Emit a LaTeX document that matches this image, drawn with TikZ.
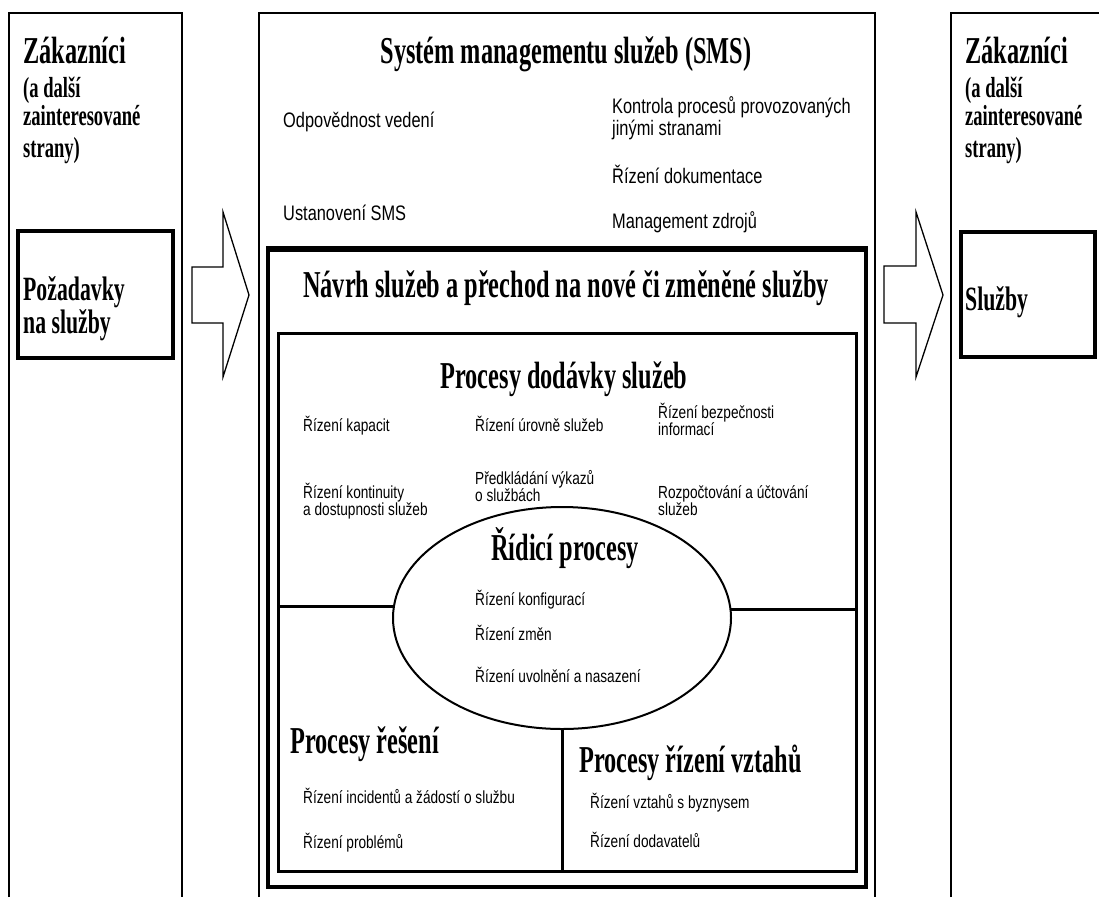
\documentclass[tikz,border=0pt]{standalone}
\usepackage{fontspec}
\setmainfont{Liberation Serif}[FakeStretch=0.64]
\setsansfont{Liberation Sans}[FakeStretch=0.78]
\newfontfamily\smallsans{Liberation Sans}[FakeStretch=0.78]
\usetikzlibrary{shapes.geometric}
\newcommand\linesof[1]{\begin{tabular}[t]{@{}l@{}}#1\end{tabular}}
\begin{document}
\begin{tikzpicture}[x=1pt,y=-1pt,
  frame/.style={line width=2.2pt},
  heavybox/.style={draw, line width=3.5pt},
  midbox/.style={draw, line width=3pt},
  sepline/.style={line width=3pt},
  blockarrow/.style={draw, line width=1.3pt, line join=miter},
  title/.style={font=\bfseries\fontsize{38}{40}\selectfont, inner sep=0, anchor=base},
  sectitle/.style={font=\bfseries\fontsize{38}{40}\selectfont, inner sep=0, anchor=base west},
  colsub/.style={font=\bfseries\fontsize{29}{30}\selectfont, inner sep=0, anchor=base west},
  boxlabel/.style={font=\bfseries\fontsize{34}{31}\selectfont, inner sep=0, anchor=base west},
  smsitem/.style={font=\sffamily\fontsize{21}{22}\selectfont, inner sep=0, anchor=base west},
  procitem/.style={font=\smallsans\fontsize{17.5}{15}\selectfont, inner sep=0, anchor=base west},
]
\useasboundingbox (0,0) rectangle (1099,897);
\fill[white] (0,0) rectangle (1099,897);

% three columns, open at the bottom
\draw[frame] (9,897) -- (9,13) -- (182,13) -- (182,897);
\draw[frame] (259,897) -- (259,13) -- (875,13) -- (875,897);
\draw[frame] (951,897) -- (951,13) -- (1099,13);

% block arrows between the columns
\draw[blockarrow] (192,267) -- (223,267) -- (223,212) -- (249,295) -- (223,377)
  -- (223,323) -- (192,323) -- cycle;
\draw[blockarrow] (884,266) -- (916,266) -- (916,212) -- (943,295) -- (916,377)
  -- (916,323) -- (884,323) -- cycle;

% customers, left
\node[sectitle] (zakL) at (23,63) {Zákazníci};
\node[colsub] (zakL1) at (23,97) {(a další};
\node[colsub] (zakL2) at (23,125) {zainteresované};
\node[colsub] (zakL3) at (23,157) {strany)};
\draw[heavybox] (18,231) rectangle (173,358);
\node[boxlabel] (pozad) at (23,300) {\linesof{Požadavky\\na služby}};

% customers, right
\node[sectitle] (zakR) at (965,63) {Zákazníci};
\node[colsub] (zakR1) at (965,97) {(a další};
\node[colsub] (zakR2) at (965,125) {zainteresované};
\node[colsub] (zakR3) at (965,157) {strany)};
\draw[heavybox] (961,232) rectangle (1095,357);
\node[boxlabel] (sluzby) at (965,310) {Služby};

% service management system
\node[title] (sms) at (566,63) {Systém managementu služeb (SMS)};
\node[smsitem] (odp) at (283,127) {Odpovědnost vedení};
\node[smsitem] (ust) at (283,220) {Ustanovení SMS};
\node[smsitem] (kontr) at (612,113) {\linesof{Kontrola procesů provozovaných\\jinými stranami}};
\node[smsitem] (dok) at (612,183) {Řízení dokumentace};
\node[smsitem] (zdr) at (612,228) {Management zdrojů};

% design and transition
\draw[heavybox] (268,248) rectangle (866,887);
\draw[line width=5pt] (266.25,249) -- (867.75,249);
\node[title] (navrh) at (566,297) {Návrh služeb a přechod na nové či změněné služby};

% service delivery processes
\draw[midbox] (278,333) rectangle (856,871);
\coordinate (dodW) at (278,333);
\coordinate (dodE) at (856,333);
\coordinate (dodS) at (567,871);
\node[title] (dod) at (564,388) {Procesy dodávky služeb};
\node[procitem] (kap) at (303,431) {Řízení kapacit};
\node[procitem] (uro) at (475,431) {Řízení úrovně služeb};
\node[procitem] (bez) at (658,418) {\linesof{Řízení bezpečnosti\\informací}};
\node[procitem] (kon) at (303,498) {\linesof{Řízení kontinuity\\a dostupnosti služeb}};
\node[procitem] (vyk) at (475,484) {\linesof{Předkládání výkazů\\o službách}};
\node[procitem] (roz) at (658,498) {\linesof{Rozpočtování a účtování\\služeb}};

% control processes
\node[draw, ellipse, line width=2pt, minimum width=338pt, minimum height=222pt, inner sep=0]
  (ridici) at (562,618) {};
\draw[sepline] (dodW |- ridici.176.6) -- (ridici.176.6);
\draw[sepline] (ridici.3.4) -- (dodE |- ridici.3.4);
\draw[sepline] (ridici.south) -- (ridici.south |- dodS);
\node[title] (ridt) at (565,560) {Řídicí procesy};
\node[procitem] (konf) at (475,605) {Řízení konfigurací};
\node[procitem] (zmen) at (475,640) {Řízení změn};
\node[procitem] (uvol) at (475,682) {Řízení uvolnění a nasazení};

% resolution processes
\node[sectitle] (res) at (290,753) {Procesy řešení};
\node[procitem] (inc) at (303,803) {Řízení incidentů a žádostí o službu};
\node[procitem] (pro) at (303,848) {Řízení problémů};

% relationship processes
\node[sectitle] (vzt) at (579,772) {Procesy řízení vztahů};
\node[procitem] (byz) at (590,808) {Řízení vztahů s byznysem};
\node[procitem] (dodav) at (590,847) {Řízení dodavatelů};
\end{tikzpicture}
\end{document}
